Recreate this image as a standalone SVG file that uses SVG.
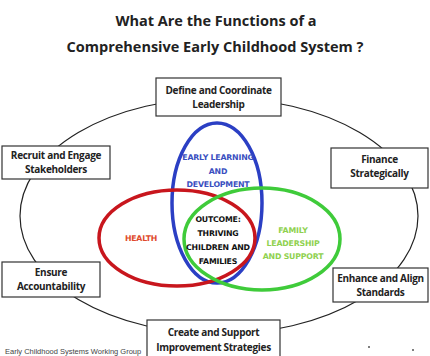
<svg xmlns="http://www.w3.org/2000/svg" width="430" height="356" viewBox="0 0 430 356">
<style>
.bg{fill:#ffffff}
.title{font-family:"Open Sans","Liberation Sans",sans-serif;font-weight:bold;font-size:14.5px;fill:#222;text-anchor:middle}
.box{fill:#ffffff;stroke:#333;stroke-width:1.2}
.bt{font-family:"Open Sans","Liberation Sans",sans-serif;font-weight:bold;font-size:10px;fill:#222;text-anchor:middle;letter-spacing:-0.3px}
.ring{fill:none;stroke:#222;stroke-width:1.2}
.v{fill:none;stroke-width:3.5}
.hv{font-family:"DejaVu Sans",sans-serif;font-weight:bold;font-size:7.8px;text-anchor:middle;letter-spacing:-0.2px}
.foot{font-family:"Liberation Sans",sans-serif;font-size:7.5px;fill:#444}
</style>
<rect class="bg" x="0" y="0" width="430" height="356"/>
<g id="title">
<text class="title" x="216" y="26">What Are the Functions of a</text>
<text class="title" x="215" y="52">Comprehensive Early Childhood System ?</text>
</g>
<g id="connectors">
<ellipse class="ring" cx="219" cy="216" rx="199" ry="118"/>
</g>
<g id="venn">
<g id="early-learning">
<ellipse class="v" cx="217" cy="203" rx="45" ry="80" stroke="#2b3fc4"/>
</g>
<g id="health">
<ellipse class="v" cx="177" cy="238" rx="78" ry="48" stroke="#c8161d"/>
</g>
<g id="family">
<ellipse class="v" cx="262" cy="239" rx="78" ry="51" stroke="#3fcb3a"/>
</g>
<g id="labels">
<text class="hv" x="218" y="160" fill="#3a4fbf">EARLY LEARNING</text>
<text class="hv" x="218" y="174" fill="#3a4fbf">AND</text>
<text class="hv" x="218" y="187" fill="#3a4fbf">DEVELOPMENT</text>
<text class="hv" x="141" y="241" fill="#e04a2c">HEALTH</text>
<text class="hv" x="218" y="222" fill="#111">OUTCOME:</text>
<text class="hv" x="218" y="236" fill="#111">THRIVING</text>
<text class="hv" x="218" y="250" fill="#111">CHILDREN AND</text>
<text class="hv" x="218" y="264" fill="#111">FAMILIES</text>
<text class="hv" x="293" y="233" fill="#8fd14f">FAMILY</text>
<text class="hv" x="293" y="246" fill="#8fd14f">LEADERSHIP</text>
<text class="hv" x="293" y="259" fill="#8fd14f">AND SUPPORT</text>
</g>
</g>
<g id="define">
<rect class="box" x="156" y="78" width="125" height="38"/>
<text class="bt" x="218.5" y="94">Define and Coordinate</text>
<text class="bt" x="218.5" y="108">Leadership</text>
</g>
<g id="recruit">
<rect class="box" x="2" y="146" width="108" height="33"/>
<text class="bt" x="56" y="159">Recruit and Engage</text>
<text class="bt" x="56" y="173">Stakeholders</text>
</g>
<g id="finance">
<rect class="box" x="331" y="148" width="97" height="40"/>
<text class="bt" x="379.5" y="163">Finance</text>
<text class="bt" x="379.5" y="177">Strategically</text>
</g>
<g id="ensure">
<rect class="box" x="2" y="262" width="98" height="35"/>
<text class="bt" x="51" y="276">Ensure</text>
<text class="bt" x="51" y="290">Accountability</text>
</g>
<g id="enhance">
<rect class="box" x="333" y="268" width="95" height="34"/>
<text class="bt" x="380.5" y="282">Enhance and Align</text>
<text class="bt" x="380.5" y="296">Standards</text>
</g>
<g id="create">
<rect class="box" x="147" y="320" width="133" height="38"/>
<text class="bt" x="213.5" y="336">Create and Support</text>
<text class="bt" x="213.5" y="351">Improvement Strategies</text>
</g>
<g id="footer">
<text class="foot" x="5" y="354">Early Childhood Systems Working Group</text>
<circle cx="369" cy="347" r="1" fill="#555"/>
<circle cx="413" cy="350" r="1" fill="#555"/>
</g>
</svg>
